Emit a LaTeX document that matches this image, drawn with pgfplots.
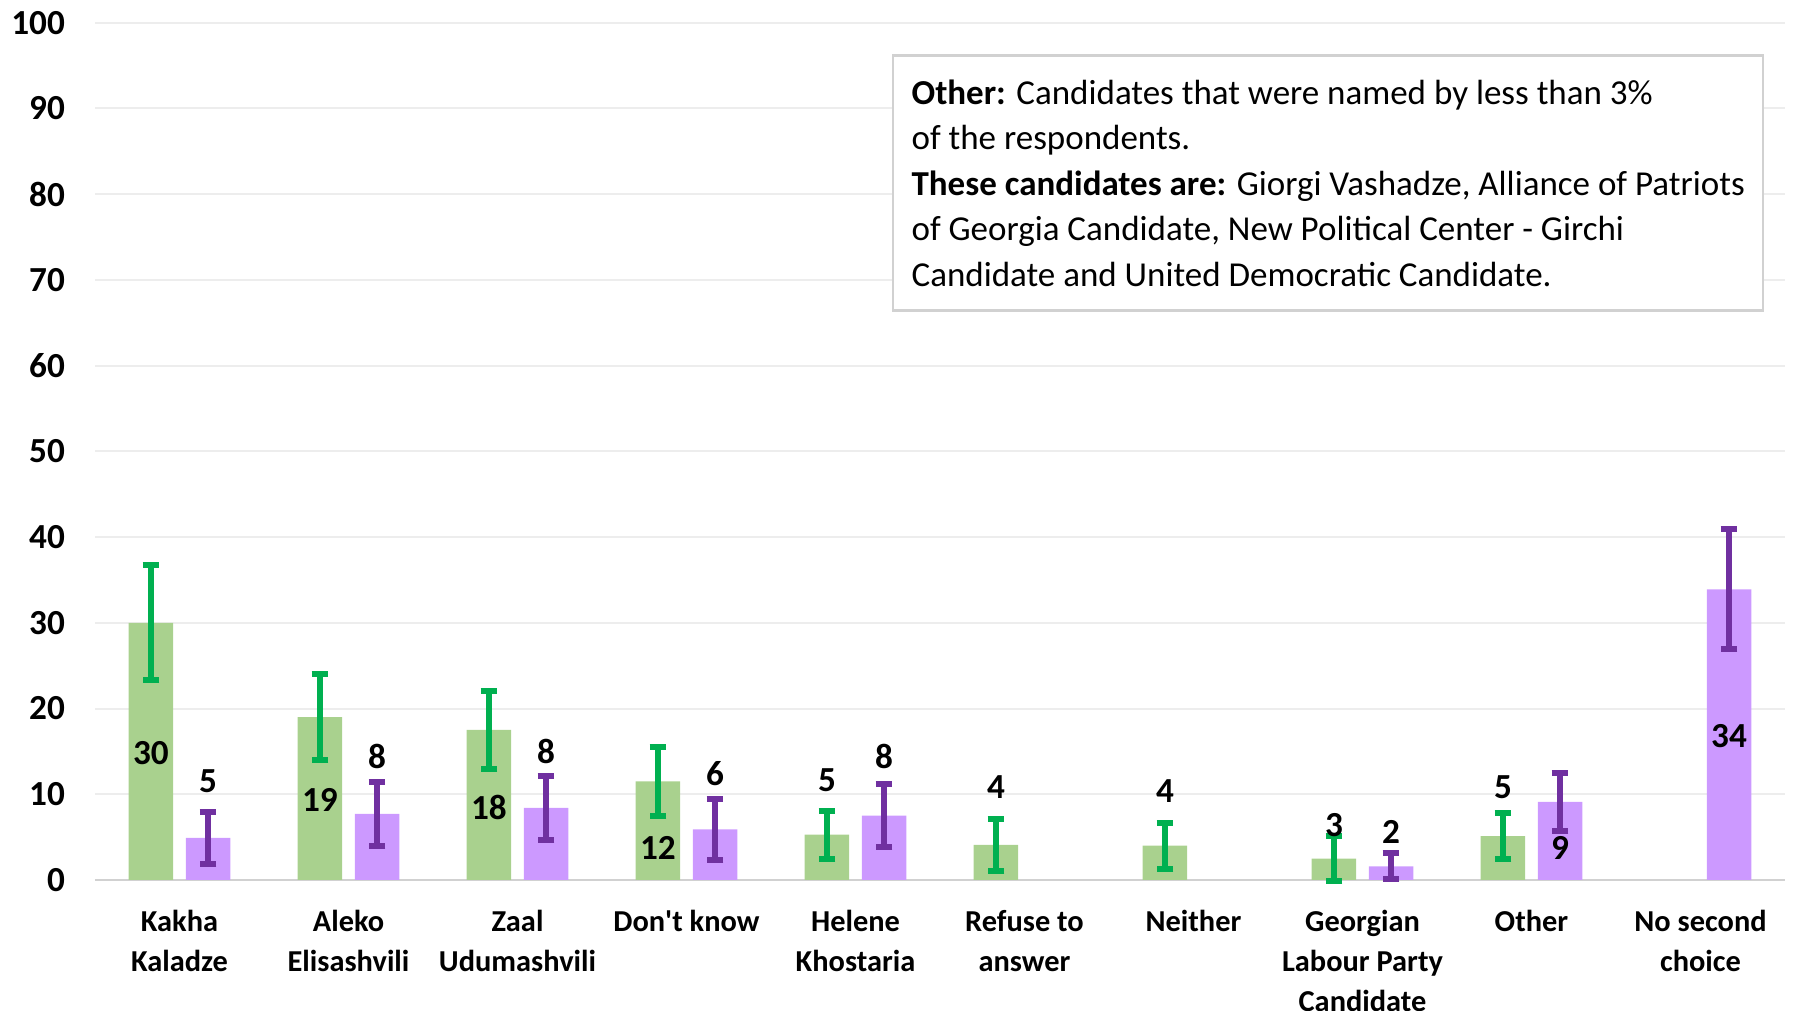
\documentclass[border=0pt]{standalone}
\usepackage{pgfplots}
\pgfplotsset{compat=1.18}
\usepackage{fontspec}
\setmainfont{Carlito}

\definecolor{gbar}{HTML}{A9D18E}
\definecolor{gerr}{HTML}{00B050}
\definecolor{pbar}{HTML}{CC99FF}
\definecolor{perr}{HTML}{7030A0}
\definecolor{gridc}{HTML}{EDEDED}

\begin{document}
\begin{tikzpicture}
\begin{axis}[
  scale only axis, width=422.5pt, height=214.3pt,
  xmin=-0.5, xmax=9.5, ymin=0, ymax=100,
  ytick={0,10,...,100},
  xtick={0,...,9},
  xticklabels={{Kakha\\Kaladze},{Aleko\\Elisashvili},{Zaal\\Udumashvili},{Don\textquotesingle t know},{Helene\\Khostaria},{Refuse to\\answer},{Neither},{Georgian\\Labour Party\\Candidate},{Other},{No second\\choice}},
  xticklabel style={align=center, font=\bfseries\fontsize{7.6}{10}\selectfont, yshift=-4pt},
  yticklabel style={font=\bfseries\fontsize{8.8}{10}\selectfont, xshift=-4pt},
  /pgf/number format/assume math mode=true,
  tick style={draw=none},
  axis line style={draw=none},
  ymajorgrids, grid style={gridc, line width=0.5pt},
  extra y ticks={0}, extra y tick labels={},
  extra y tick style={grid style={black!18, line width=0.7pt}},
  bar width=0.264,
  error bars/y dir=both, error bars/y explicit,
  clip=false,
]
% first choice (green)
\addplot[ybar, bar shift=0, fill=gbar, draw=none,
  error bars/error bar style={gerr, line width=1.5pt},
  error bars/error mark options={gerr, line width=1.5pt, mark size=2.1pt, rotate=90}]
  coordinates {(-0.169,30.0) +- (0,6.7) (0.831,19.0) +- (0,5.0) (1.831,17.5) +- (0,4.5) (2.831,11.5) +- (0,4.0)
    (3.831,5.3) +- (0,2.8) (4.831,4.1) +- (0,3.0) (5.831,4.0) +- (0,2.7) (6.831,2.5) +- (0,2.6) (7.831,5.1) +- (0,2.7)};
% second choice (purple)
\addplot[ybar, bar shift=0, fill=pbar, draw=none,
  error bars/error bar style={perr, line width=1.5pt},
  error bars/error mark options={perr, line width=1.5pt, mark size=2.1pt, rotate=90}]
  coordinates {(0.169,4.9) +- (0,3.0) (1.169,7.7) +- (0,3.7) (2.169,8.4) +- (0,3.75) (3.169,5.9) +- (0,3.6)
    (4.169,7.5) +- (0,3.7) (7.169,1.6) +- (0,1.5) (8.169,9.1) +- (0,3.4) (9.169,33.9) +- (0,7.0)};
% value labels
\addplot[draw=none, mark=none, nodes near coords, point meta=explicit symbolic,
  nodes near coords align=center,
  every node near coord/.append style={font=\bfseries\fontsize{8.8}{10}\selectfont, anchor=center, inner sep=0pt}]
  coordinates {(-0.169,14.8)[30] (0.169,11.5)[5] (0.831,9.3)[19] (1.169,14.4)[8]
    (1.831,8.5)[18] (2.169,15.0)[8] (2.831,3.7)[12] (3.169,12.4)[6]
    (3.831,11.6)[5] (4.169,14.4)[8] (4.831,10.8)[4] (5.831,10.4)[4]
    (6.831,6.4)[3] (7.169,5.6)[2] (7.831,10.8)[5] (8.169,3.7)[9] (9.169,16.8)[34]};
\node[draw=black!18, line width=0.6pt, fill=white, anchor=north west, align=left,
  inner xsep=4.6pt, inner ysep=4.6pt, minimum height=63.75pt, font=\fontsize{8.75}{11.4}\selectfont]
  at (axis cs:4.216,96.3)
  {\textbf{Other:} Candidates that were named by less than 3\%\\
   of the respondents.\\
   \textbf{These candidates are:} Giorgi Vashadze, Alliance of Patriots\\
   of Georgia Candidate, New Political Center - Girchi\\
   Candidate and United Democratic Candidate.};
\coordinate (bl) at (rel axis cs:0,0);
\coordinate (tr) at (rel axis cs:1,1);
\end{axis}
\pgfresetboundingbox
\useasboundingbox ([xshift=-23.75pt,yshift=-32.75pt]bl) rectangle ([xshift=2.25pt,yshift=5.7pt]tr);
\end{tikzpicture}
\end{document}
